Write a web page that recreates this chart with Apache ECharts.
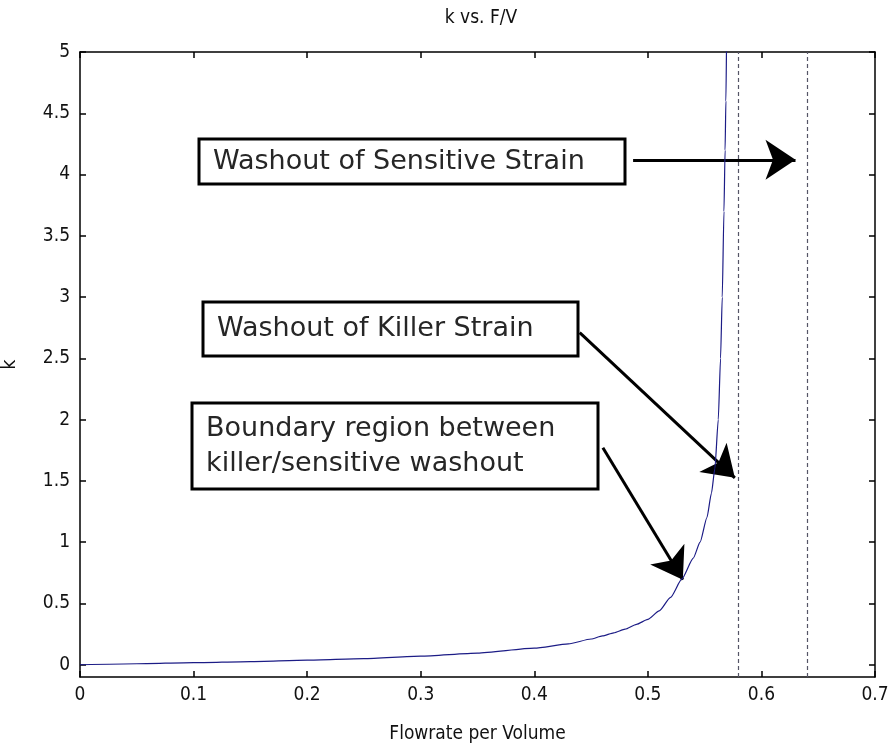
<!DOCTYPE html>
<html><head><meta charset="utf-8">
<script src="https://cdn.jsdelivr.net/npm/echarts@6/dist/echarts.min.js"></script>
<style>html,body{margin:0;padding:0;background:#fff}#c{width:892px;height:746px}</style>
</head><body><div id="c"></div>
<script>
const flowrate = [0, 0.05, 0.1, 0.15, 0.2, 0.25, 0.3, 0.35, 0.4, 0.43, 0.45, 0.46, 0.47, 0.48, 0.49, 0.5, 0.51, 0.52, 0.53, 0.54, 0.546, 0.552, 0.556, 0.559, 0.562, 0.564, 0.5655, 0.567, 0.568, 0.5687, 0.5695, 0.5705];
const kValues = [0, 0.008, 0.017, 0.026, 0.037, 0.05, 0.07, 0.095, 0.135, 0.17, 0.21, 0.235, 0.26, 0.29, 0.33, 0.37, 0.44, 0.55, 0.70, 0.87, 1.0, 1.2, 1.4, 1.6, 2.0, 2.5, 3.0, 3.7, 4.2, 4.6, 5.2, 6.5];
const xTicks = [0, 0.1, 0.2, 0.3, 0.4, 0.5, 0.6, 0.7];
const yTicks = [0, 0.5, 1, 1.5, 2, 2.5, 3, 3.5, 4, 4.5, 5];
const washoutLines = [0.578, 0.642];
const arrowStart = [[0.487, 4.12], [0.440, 2.71], [0.4604, 1.77]];
const arrowEnd = [[0.630, 4.12], [0.5766, 1.525], [0.5308, 0.693]];
const boxTexts = ['Washout of Sensitive Strain', 'Washout of Killer Strain', 'Boundary region between\nkiller/sensitive washout'];

const chart = echarts.init(document.getElementById('c'));
const tickFont = '"DejaVu Sans Condensed","Liberation Sans",sans-serif';
const lineOff = {show: true, onZero: false, lineStyle: {color: '#000', width: 1.5}};
const tickStyle = {inside: true, length: 6, lineStyle: {color: '#000', width: 1.5}};
const boxes = [
  {x: 199, y: 139, w: 426, h: 45},
  {x: 203, y: 302, w: 375, h: 54},
  {x: 192, y: 403, w: 406, h: 86}
];
const graphic = [];
boxes.forEach((b, i) => {
  graphic.push({type: 'rect', shape: {x: b.x, y: b.y, width: b.w, height: b.h},
    style: {fill: '#fff', stroke: '#000', lineWidth: 3}, z: 100});
  graphic.push({type: 'text', x: b.x + 14, y: b.y + b.h / 2,
    style: {text: boxTexts[i], font: '27px "DejaVu Sans",sans-serif', fill: '#262626',
      verticalAlign: 'middle', lineHeight: 35}, z: 101});
});

chart.setOption({
  animation: false,
  backgroundColor: '#fff',
  title: {text: 'k vs. F/V', left: 476, top: 4, textAlign: 'center',
    textStyle: {fontSize: 19, fontWeight: 'normal', color: '#111', fontFamily: tickFont}},
  grid: {left: 80, right: 17, top: 52, bottom: 69, show: false, containLabel: false, outerBoundsMode: 'none'},
  xAxis: [
    {type: 'value', min: 0, max: 0.7, interval: 0.1, position: 'bottom',
      name: 'Flowrate per Volume', nameLocation: 'middle', nameGap: 48,
      nameTextStyle: {fontSize: 19, color: '#111', fontFamily: tickFont},
      axisLine: lineOff, axisTick: tickStyle, splitLine: {show: false},
      axisLabel: {fontSize: 19, color: '#111', margin: 9, fontFamily: tickFont}},
    {type: 'value', min: 0, max: 0.7, interval: 0.1, position: 'top',
      axisLine: lineOff, axisTick: tickStyle, splitLine: {show: false},
      axisLabel: {show: false}}
  ],
  yAxis: [
    {type: 'value', min: -0.1, max: 5, position: 'left',
      name: 'k', nameLocation: 'middle', nameGap: 60, nameRotate: 90,
      nameTextStyle: {fontSize: 19, color: '#111', fontFamily: tickFont},
      axisLine: lineOff, splitLine: {show: false},
      axisTick: Object.assign({customValues: yTicks}, tickStyle),
      axisLabel: {customValues: yTicks, fontSize: 19, color: '#111', margin: 10, fontFamily: tickFont}},
    {type: 'value', min: -0.1, max: 5, position: 'right',
      axisLine: lineOff, splitLine: {show: false},
      axisTick: Object.assign({customValues: yTicks}, tickStyle),
      axisLabel: {show: false, customValues: yTicks}}
  ],
  series: [
    {type: 'line', data: flowrate.map((x, i) => [x, kValues[i]]), showSymbol: false,
      smooth: 0.2, smoothMonotone: 'x', clip: true,
      lineStyle: {color: '#1c1c86', width: 1.2}, z: 5,
      markLine: {silent: true, symbol: 'none', label: {show: false},
        lineStyle: {type: [4, 3], color: '#555566', width: 1.2},
        data: washoutLines.map(v => ({xAxis: v}))}},
    {type: 'line', data: [], z: 50,
      markLine: {silent: true, symbol: ['none', 'arrow'], symbolSize: 30,
        label: {show: false}, lineStyle: {type: 'solid', color: '#000', width: 3},
        data: arrowStart.map((s, i) => [{coord: s}, {coord: arrowEnd[i]}])}}
  ],
  graphic: graphic
});
</script></body></html>
